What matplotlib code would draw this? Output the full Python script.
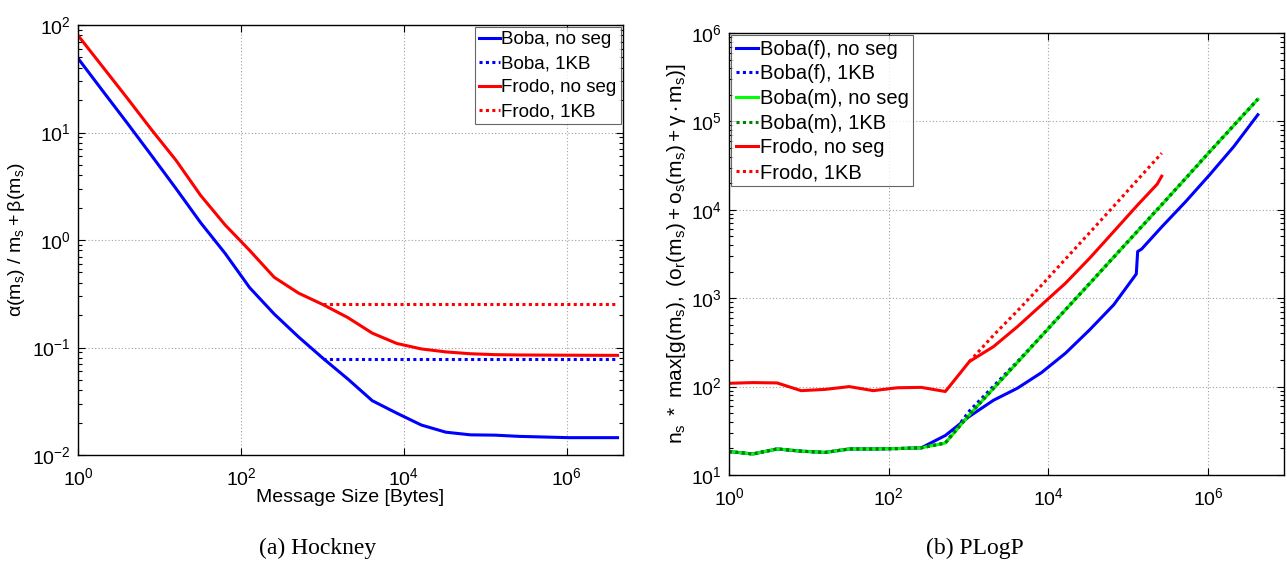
import numpy as np
import matplotlib
matplotlib.use("Agg")
import matplotlib.pyplot as plt
from matplotlib.ticker import FixedLocator, LogLocator, NullFormatter, FuncFormatter

plt.rcParams["font.family"] = ["Liberation Sans", "DejaVu Sans"]
plt.rcParams["mathtext.fontset"] = "custom"
plt.rcParams["mathtext.rm"] = "Liberation Sans"
plt.rcParams["mathtext.it"] = "Liberation Sans:italic"
plt.rcParams["mathtext.default"] = "regular"

# ---------------- Hockney model ----------------
hockney_sizes = [2 ** k for k in range(23)]
hockney_boba = [49, 24.5, 12.3, 6.1, 3.0, 1.45, 0.75, 0.36, 0.205, 0.125, 0.079,
                0.051, 0.032, 0.0245, 0.019, 0.0163, 0.0154, 0.0153, 0.0149,
                0.0147, 0.0145, 0.0145, 0.0145]
hockney_frodo = [80, 41, 21, 10.6, 5.5, 2.6, 1.38, 0.8, 0.45, 0.32, 0.25, 0.19,
                 0.136, 0.109, 0.097, 0.091, 0.0875, 0.0858, 0.0852, 0.085,
                 0.0848, 0.0846, 0.0845]
seg_sizes = [2 ** k for k in range(10, 23)]
hockney_boba_1kb = [0.079] * len(seg_sizes)
hockney_frodo_1kb = [0.254] * len(seg_sizes)

# ---------------- PLogP model ----------------
plogp_sizes = [2 ** k for k in range(23)]
boba_f_sizes = [2 ** k for k in range(17)] + [126000, 131072, 147000] + [2 ** k for k in range(18, 23)]
boba_f_noseg = [18.4, 17.3, 19.7, 18.6, 18.0, 19.7, 19.7, 19.9, 20.3, 28, 46, 70, 96,
                144, 239, 438, 840, 1880, 3370, 3600, 6400, 12400, 25000, 52000, 119000]
boba_f_1kb = [18.4, 17.3, 19.7, 18.6, 18.0, 19.7, 19.7, 19.9, 20.3, 23, 53, 101, 192,
              376, 745, 1470, 2920, 5780, 11450, 22800, 45700, 90500, 179000]
boba_m_noseg = [18.4, 17.3, 19.7, 18.6, 18.0, 19.7, 19.7, 19.9, 20.3, 23, 48, 95, 188,
                373, 740, 1460, 2900, 5750, 11400, 22700, 45500, 90000, 178000]
boba_m_1kb = [18.4, 17.3, 19.7, 18.6, 18.0, 19.7, 19.7, 19.9, 20.3, 23, 48, 95, 188,
              373, 740, 1460, 2900, 5750, 11400, 22700, 45500, 90000, 178000]
frodo_sizes = [2 ** k for k in range(18)] + [230000, 262144]
frodo_noseg = [109, 111, 110, 90, 93, 100, 90, 97, 98, 88, 192, 283, 477, 840, 1480,
               2830, 5660, 11350, 19500, 24000]
frodo_1kb_sizes = [2 ** k for k in range(10, 19)]
frodo_1kb = [192, 380, 720, 1400, 2780, 5500, 10950, 21900, 43700]

BLUE, RED, GREEN, DKGREEN = "#0000ff", "#ff0000", "#00ff00", "#007f00"
LW = 2.2
DOT = (0, (1.0, 1.1))
FS = 14


def pow10(v, pos):
    return r"$10^{%d}$" % int(round(np.log10(v)))


def style(ax, xmax, ylo, yhi):
    ax.set_xscale("log")
    ax.set_yscale("log")
    ax.set_xlim(1, xmax)
    ax.set_ylim(ylo, yhi)
    ax.xaxis.set_major_locator(FixedLocator([1, 1e2, 1e4, 1e6]))
    ax.xaxis.set_minor_locator(FixedLocator([]))
    ax.yaxis.set_major_locator(FixedLocator([10.0 ** e for e in range(-3, 8)]))
    ax.yaxis.set_minor_locator(LogLocator(base=10, subs=range(2, 10), numticks=20))
    ax.xaxis.set_major_formatter(FuncFormatter(pow10))
    ax.yaxis.set_major_formatter(FuncFormatter(pow10))
    ax.yaxis.set_minor_formatter(NullFormatter())
    ax.tick_params(which="both", direction="in", top=True, right=True,
                   labelsize=FS, width=0.8, colors="black")
    ax.tick_params(which="major", length=5)
    ax.tick_params(axis="x", which="major", pad=9)
    ax.tick_params(axis="y", which="major", pad=5)
    ax.tick_params(which="minor", length=3)
    ax.grid(True, which="major", ls=(0, (1, 2)), color="#a0a0a0", lw=0.8)
    for s in ax.spines.values():
        s.set_linewidth(1.0)
        s.set_color("black")


def legend(ax, loc, size, spacing):
    leg = ax.legend(loc=loc, fontsize=size, frameon=True, fancybox=False,
                    borderaxespad=0.12, handlelength=1.1, handletextpad=0.1,
                    labelspacing=spacing, borderpad=0.22)
    leg.get_frame().set_edgecolor("#404040")
    leg.get_frame().set_linewidth(0.8)
    return leg


fig = plt.figure(figsize=(12.87, 5.65), dpi=100)
W, H = 1287, 565

# Left panel: Hockney
ax1 = fig.add_axes([78 / W, (H - 455) / H, (623 - 78) / W, (455 - 25) / H])
style(ax1, 10 ** 6.69, 1e-2, 1e2)
ax1.plot(hockney_sizes, hockney_boba, color=BLUE, lw=LW, label="Boba, no seg")
ax1.plot(seg_sizes, hockney_boba_1kb, color=BLUE, lw=LW, ls=DOT, label="Boba, 1KB")
ax1.plot(hockney_sizes, hockney_frodo, color=RED, lw=LW, label="Frodo, no seg")
ax1.plot(seg_sizes, hockney_frodo_1kb, color=RED, lw=LW, ls=DOT, label="Frodo, 1KB")
ax1.set_xlabel("Message Size [Bytes]", fontsize=FS, labelpad=0)
ax1.set_ylabel(r"$\alpha(m_s)\ /\ m_s + \beta(m_s)$", fontsize=FS, labelpad=4)
legend(ax1, "upper right", 13.5, 0.36)

# Right panel: PLogP
ax2 = fig.add_axes([729 / W, (H - 475) / H, (1284 - 729) / W, (475 - 33) / H])
style(ax2, 10 ** 6.95, 1e1, 1e6)
ax2.plot(boba_f_sizes, boba_f_noseg, color=BLUE, lw=LW, label="Boba(f), no seg")
ax2.plot(plogp_sizes, boba_f_1kb, color=BLUE, lw=LW, ls=DOT, label="Boba(f), 1KB")
ax2.plot(plogp_sizes, boba_m_noseg, color=GREEN, lw=LW, label="Boba(m), no seg")
ax2.plot(plogp_sizes, boba_m_1kb, color=DKGREEN, lw=LW, ls=DOT, label="Boba(m), 1KB")
ax2.plot(frodo_sizes, frodo_noseg, color=RED, lw=LW, label="Frodo, no seg")
ax2.plot(frodo_1kb_sizes, frodo_1kb, color=RED, lw=LW, ls=DOT, label="Frodo, 1KB")
ax2.set_ylabel(r"$n_s\ *\ max[g(m_s),\ (o_r(m_s) + o_s(m_s) + \gamma \cdot m_s)]$",
               fontsize=15, labelpad=2)
legend(ax2, "upper left", 14.5, 0.28)

# Sub-figure captions
fig.text(318 / W, 1 - 548 / H, "(a) Hockney", ha="center", va="center",
         fontsize=17, family="Liberation Serif")
fig.text(975 / W, 1 - 548 / H, "(b) PLogP", ha="center", va="center",
         fontsize=17, family="Liberation Serif")

fig.savefig("out.png", dpi=100, facecolor="white")
